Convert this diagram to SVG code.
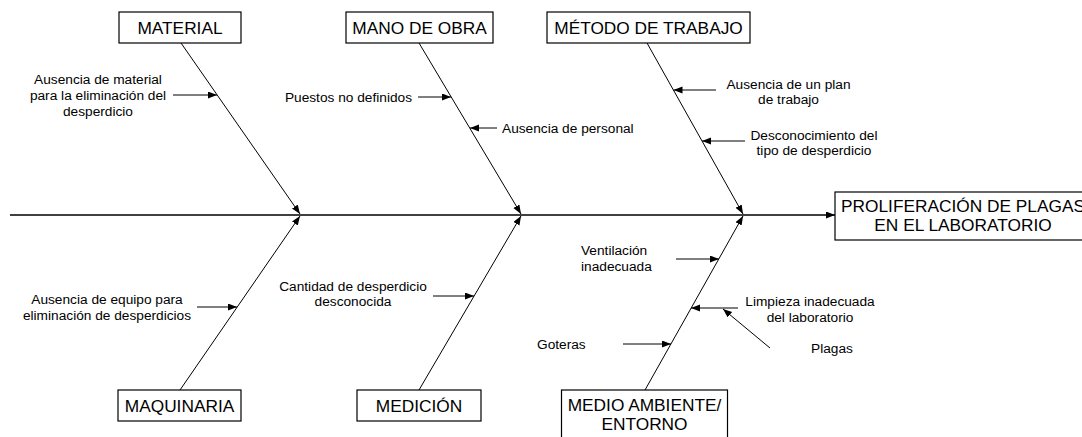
<svg xmlns="http://www.w3.org/2000/svg" width="1082" height="437" viewBox="0 0 1082 437">
<style>
  .bg{fill:#ffffff}
  .box{fill:#ffffff;stroke:#000;stroke-width:1.2}
  .t{font-family:"Liberation Sans",Arial,sans-serif;fill:#000}
  .big{font-size:17.3px}
  .sm{font-size:13.7px}
  .spine{stroke:#000;stroke-width:1.5;fill:none}
  .bone{stroke:#000;stroke-width:1;fill:none}
</style>
<defs>
  <marker id="ah" markerUnits="userSpaceOnUse" markerWidth="10" markerHeight="8" refX="9" refY="3.5" orient="auto">
    <path d="M0,0 L9,3.5 L0,7 z" fill="#000"/>
  </marker>
</defs>
<rect class="bg" x="0" y="0" width="1082" height="437"/>

<g id="connectors">
  <line class="spine" x1="10" y1="215" x2="835" y2="215" marker-end="url(#ah)"/>
  <line class="bone" x1="181" y1="43" x2="300" y2="214" marker-end="url(#ah)"/>
  <line class="bone" x1="419" y1="43" x2="521" y2="214" marker-end="url(#ah)"/>
  <line class="bone" x1="647" y1="43" x2="743" y2="214" marker-end="url(#ah)"/>
  <line class="bone" x1="180" y1="390" x2="300" y2="216" marker-end="url(#ah)"/>
  <line class="bone" x1="419" y1="390" x2="521" y2="216" marker-end="url(#ah)"/>
  <line class="bone" x1="645" y1="390" x2="743" y2="216" marker-end="url(#ah)"/>
  <line class="bone" x1="173" y1="95" x2="217" y2="95" marker-end="url(#ah)"/>
  <line class="bone" x1="418" y1="97" x2="451" y2="97" marker-end="url(#ah)"/>
  <line class="bone" x1="497" y1="128" x2="470" y2="128" marker-end="url(#ah)"/>
  <line class="bone" x1="716" y1="90" x2="673.5" y2="90" marker-end="url(#ah)"/>
  <line class="bone" x1="745" y1="141" x2="702" y2="141" marker-end="url(#ah)"/>
  <line class="bone" x1="197" y1="307" x2="237" y2="307" marker-end="url(#ah)"/>
  <line class="bone" x1="433" y1="296" x2="474" y2="296" marker-end="url(#ah)"/>
  <line class="bone" x1="676" y1="259" x2="719" y2="259" marker-end="url(#ah)"/>
  <line class="bone" x1="738" y1="308" x2="691" y2="308" marker-end="url(#ah)"/>
  <line class="bone" x1="623" y1="344" x2="671" y2="344" marker-end="url(#ah)"/>
  <line class="bone" x1="770" y1="348" x2="723" y2="309" marker-end="url(#ah)"/>
</g>

<g id="material">
  <rect class="box" x="119" y="12" width="122" height="31"/>
  <text class="t big" x="180" y="33.5" text-anchor="middle">MATERIAL</text>
</g>
<g id="mano-de-obra">
  <rect class="box" x="346" y="12" width="147" height="31"/>
  <text class="t big" x="419.5" y="33.5" text-anchor="middle">MANO DE OBRA</text>
</g>
<g id="metodo">
  <rect class="box" x="547" y="12" width="203" height="31"/>
  <text class="t big" x="648.5" y="33.5" text-anchor="middle">MÉTODO DE TRABAJO</text>
</g>
<g id="maquinaria">
  <rect class="box" x="118" y="390" width="123" height="31"/>
  <text class="t big" x="179.5" y="411.5" text-anchor="middle">MAQUINARIA</text>
</g>
<g id="medicion">
  <rect class="box" x="357" y="390" width="124" height="31"/>
  <text class="t big" x="419" y="411.5" text-anchor="middle">MEDICIÓN</text>
</g>
<g id="medio-ambiente">
  <rect class="box" x="561.5" y="390" width="166" height="60"/>
  <text class="t big" x="644.5" y="410.5" text-anchor="middle">MEDIO AMBIENTE/</text>
  <text class="t big" x="644.5" y="430" text-anchor="middle">ENTORNO</text>
</g>
<g id="efecto">
  <rect class="box" x="835" y="192" width="256" height="48"/>
  <text class="t big" x="963" y="212" text-anchor="middle">PROLIFERACIÓN DE PLAGAS</text>
  <text class="t big" x="963" y="230.5" text-anchor="middle">EN EL LABORATORIO</text>
</g>

<g id="causa-material">
  <text class="t sm" x="98" y="84" text-anchor="middle">Ausencia de material</text>
  <text class="t sm" x="98" y="100" text-anchor="middle">para la eliminación del</text>
  <text class="t sm" x="98" y="116" text-anchor="middle">desperdicio</text>
</g>
<g id="causa-puestos">
  <text class="t sm" x="412" y="101.5" text-anchor="end">Puestos no definidos</text>
</g>
<g id="causa-personal">
  <text class="t sm" x="502" y="133">Ausencia de personal</text>
</g>
<g id="causa-plan">
  <text class="t sm" x="788.5" y="88.5" text-anchor="middle">Ausencia de un plan</text>
  <text class="t sm" x="788.5" y="104" text-anchor="middle">de trabajo</text>
</g>
<g id="causa-desconocimiento">
  <text class="t sm" x="814" y="139.5" text-anchor="middle">Desconocimiento del</text>
  <text class="t sm" x="814" y="155" text-anchor="middle">tipo de desperdicio</text>
</g>
<g id="causa-equipo">
  <text class="t sm" x="107" y="303.5" text-anchor="middle">Ausencia de equipo para</text>
  <text class="t sm" x="107" y="319.5" text-anchor="middle">eliminación de desperdicios</text>
</g>
<g id="causa-cantidad">
  <text class="t sm" x="353" y="290.5" text-anchor="middle">Cantidad de desperdicio</text>
  <text class="t sm" x="353" y="305.5" text-anchor="middle">desconocida</text>
</g>
<g id="causa-ventilacion">
  <text class="t sm" x="581" y="254.5">Ventilación</text>
  <text class="t sm" x="581" y="271">inadecuada</text>
</g>
<g id="causa-limpieza">
  <text class="t sm" x="810" y="305.5" text-anchor="middle">Limpieza inadecuada</text>
  <text class="t sm" x="810" y="321.5" text-anchor="middle">del laboratorio</text>
</g>
<g id="causa-plagas">
  <text class="t sm" x="811" y="353">Plagas</text>
</g>
<g id="causa-goteras">
  <text class="t sm" x="537" y="348.5">Goteras</text>
</g>
</svg>
